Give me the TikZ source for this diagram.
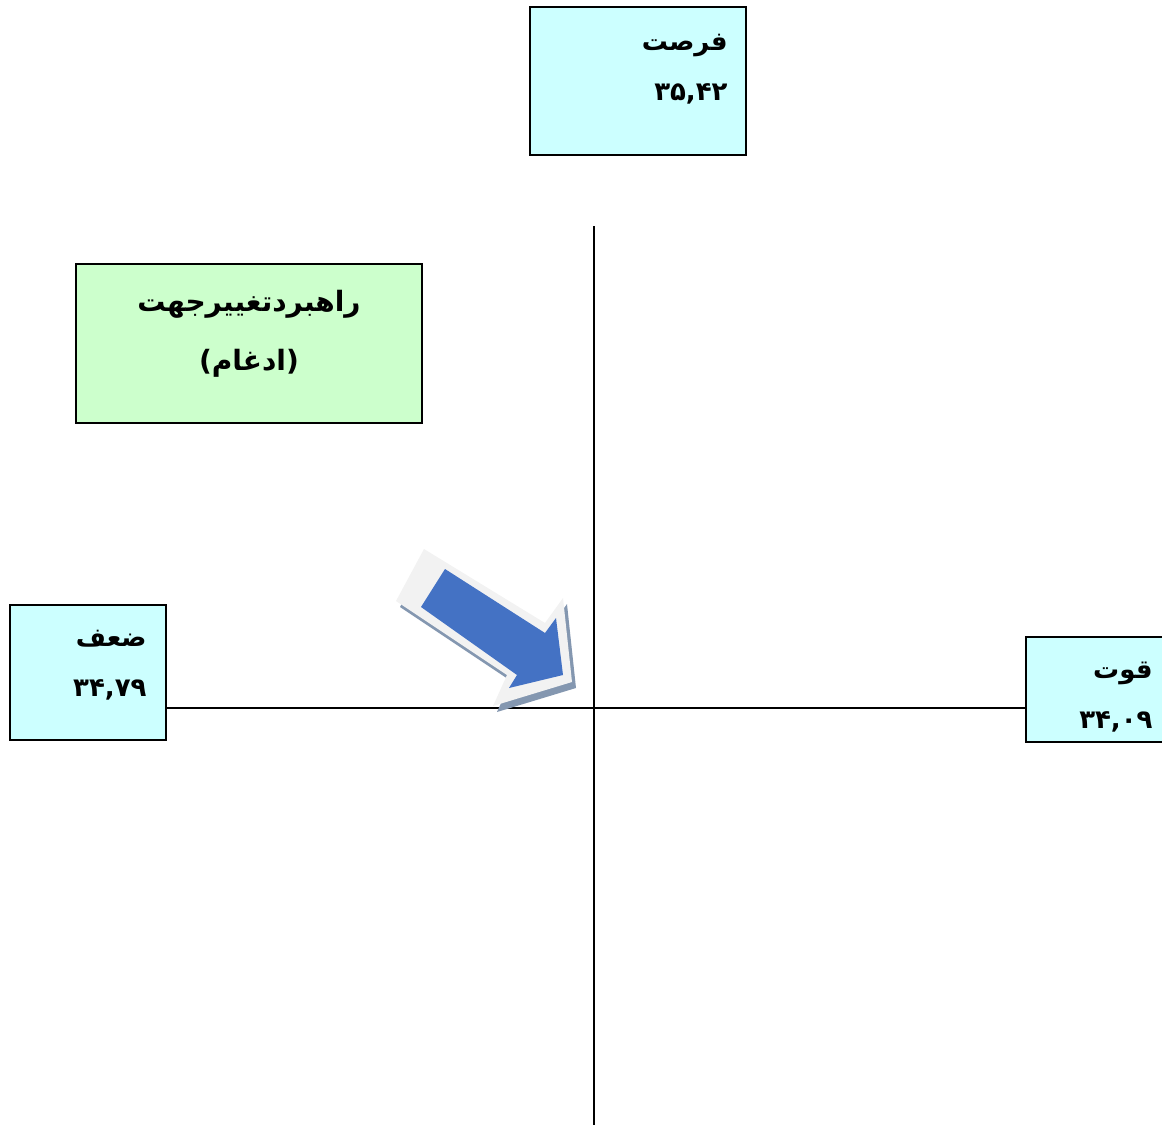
\documentclass[tikz,border=0pt]{standalone}
\usepackage{fontspec}
\newfontfamily\arabicfont[Script=Arabic]{DejaVu Sans}
\TeXXeTstate=1
\usetikzlibrary{positioning}
\definecolor{boxcyan}{HTML}{CCFFFF}
\definecolor{boxgreen}{HTML}{CCFFCC}
\definecolor{arrowblue}{HTML}{4472C4}
\definecolor{arrowrim}{HTML}{F2F2F2}
\definecolor{arrowshade}{HTML}{8497B0}
\tikzset{
  cbox/.style={draw,fill=boxcyan,line width=1pt,inner sep=0pt},
  gbox/.style={draw,fill=boxgreen,line width=1pt,inner sep=0pt},
  fatext/.style={font=\arabicfont\bfseries\fontsize{13}{25}\selectfont,inner sep=0pt,align=right},
}

\begin{document}
\begin{tikzpicture}[x=0.5pt,y=-0.5pt]
		\useasboundingbox (0,0) rectangle (1162,1125);
		\begin{scope}
		\clip (0,0) rectangle (1162,1125);
		% boxes
		\node[cbox,minimum width=108pt,minimum height=74pt] (opp) at (638,81) {};
		\node[gbox,minimum width=173pt,minimum height=79.5pt] (strat) at (249,343.5) {};
		\node[cbox,minimum width=78pt,minimum height=67.5pt] (weak) at (88,672.5) {};
		\node[cbox,minimum width=72pt,minimum height=52.5pt] (strg) at (1098,689.5) {};
		\end{scope}
		%
		\node[fatext,below left=14pt and 9.5pt of opp.north east] (opptxt) {\beginR فرصت\endR\\ ۳۵,۴۲};
		\node[fatext,align=center,font=\arabicfont\bfseries\fontsize{14}{29.5}\selectfont] (strattxt) at (249,334) {\beginR راهبردتغییرجهت\endR\\ \beginR (ادغام)\endR};
		\node[fatext,below left=13pt and 10pt of weak.north east] (weaktxt) {\beginR ضعف\endR\\ ۳۴,۷۹};
		\node[fatext,below left=13pt and 9pt of strg.north east] (strgtxt) {\beginR قوت\endR\\ ۳۴,۰۹};
		%
		\coordinate (o) at (594,708);
		\coordinate (top) at (594,226);
		\coordinate (bot) at (594,1125);
		\path[line width=1pt]
		% axes
		(top) edge (bot)
		(weak.east |- o) edge (strg.west |- o);
		%
		% arrow
		\fill[arrowshade] (428,555) -- (400,607) -- (511,681) -- (497,712) -- (576,688) -- (567,604) -- (549,629) -- cycle;
		\fill[arrowrim] (424,549) -- (396,601) -- (507,675) -- (493,706) -- (572,682) -- (563,598) -- (545,623) -- cycle;
		\fill[arrowblue] (445,569) -- (421,607) -- (517,675) -- (509,688) -- (563,675) -- (556,618) -- (545,633) -- cycle;
\end{tikzpicture}
\end{document}
